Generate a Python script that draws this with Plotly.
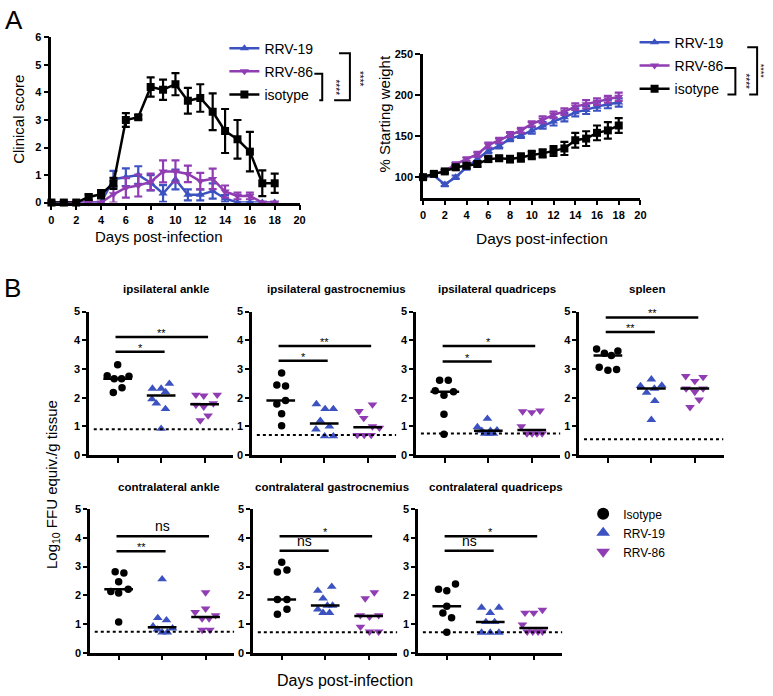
import plotly.graph_objects as go
import numpy as np

W, H = 773, 696
def px(x): return x / W
def py(y): return 1 - y / H

FONT = "Arial, Liberation Sans, sans-serif"
BLUE = "#3c52c0"
PURPLE = "#903db3"
BLACK = "#000000"

# ---------------- Panel A data ----------------
days = list(range(19))
clin_iso = [0, 0, 0, 0.2, 0.3, 0.7, 3.0, 3.1, 4.2, 4.1, 4.3, 3.7, 3.8, 3.3, 2.6, 2.3, 1.85, 0.7, 0.7]
clin_iso_err = [0, 0, 0, 0.1, 0.15, 0.2, 0.25, 0.08, 0.35, 0.37, 0.4, 0.47, 0.5, 0.67, 0.8, 0.7, 0.72, 0.47, 0.35]
clin_19 = [0, 0, 0, 0, 0, 0.85, 0.92, 1.0, 0.72, 0.33, 0.84, 0.28, 0.28, 0.42, 0.15, 0, 0, 0, 0]
clin_19_err = [0, 0, 0, 0, 0, 0.3, 0.32, 0.32, 0.28, 0.3, 0.36, 0.2, 0.2, 0.28, 0.12, 0, 0, 0, 0]
clin_86 = [0, 0, 0, 0, 0, 0.3, 0.54, 0.62, 0.75, 1.13, 1.13, 1.04, 0.78, 0.86, 0.4, 0.24, 0.24, 0, 0]
clin_86_err = [0, 0, 0, 0, 0, 0.3, 0.36, 0.4, 0.3, 0.4, 0.4, 0.3, 0.3, 0.37, 0.22, 0.12, 0.12, 0, 0]

weight_iso = [100, 104, 107, 112, 114, 116, 122, 123, 122, 124, 127, 129, 132, 135, 145, 147, 154, 157, 163]
weight_iso_err = [1, 2, 2, 3, 3, 3, 3, 3, 4, 5, 5, 5, 6, 8, 9, 9, 9, 10, 9]
weight_19 = [100, 102, 91, 100, 112, 122, 132, 138, 147, 151, 157, 163, 168, 173, 179, 182, 186, 189, 191]
weight_19_err = [1, 1, 2, 2, 3, 3, 3, 3, 3, 3, 4, 4, 5, 5, 5, 5, 5, 5, 5]
weight_86 = [100, 104, 107, 116, 122, 128, 139, 145, 152, 157, 165, 170, 176, 180, 186, 189, 192, 195, 198]
weight_86_err = [1, 1, 2, 2, 2, 3, 3, 3, 3, 3, 3, 4, 4, 4, 4, 5, 4, 4, 5]

# ---------------- Panel B data ----------------
groups = ["Isotype", "RRV-19", "RRV-86"]
tissues = ["ipsilateral ankle", "ipsilateral gastrocnemius", "ipsilateral quadriceps", "spleen",
           "contralateral ankle", "contralateral gastrocnemius", "contralateral quadriceps"]

ipsi_ankle = [[3.15, 2.77, 2.66, 2.66, 2.75, 2.18, 2.35],
              [2.32, 2.32, 2.49, 2.2, 1.95, 1.8, 1.61, 0.92],
              [2.1, 2.07, 2.1, 1.75, 1.69, 1.8, 1.38, 1.21]]
ipsi_gastroc = [[2.86, 2.44, 2.41, 1.78, 1.9, 1.44, 1.02],
                [1.78, 1.61, 1.61, 1.2, 1.0, 0.9, 0.66, 0.66],
                [1.53, 1.76, 1.29, 1.0, 0.95, 0.7, 0.7, 0.7]]
ipsi_quad = [[2.61, 2.61, 2.24, 2.21, 2.09, 1.42, 0.73],
             [0.98, 1.27, 0.85, 0.85, 0.87, 0.75, 0.75, 0.75],
             [1.52, 1.49, 1.55, 1.0, 0.75, 0.75, 0.75, 0.75]]
spleen = [[3.7, 3.55, 3.47, 3.63, 3.06, 2.96, 2.98],
          [2.41, 2.64, 2.43, 2.18, 2.32, 1.89, 1.23],
          [2.75, 2.58, 2.72, 2.32, 2.2, 2.32, 1.93, 1.67]]
contra_ankle = [[2.82, 2.78, 2.47, 2.13, 2.08, 2.21, 1.07],
                [2.56, 1.21, 1.13, 0.92, 0.81, 0.71, 0.71, 0.85],
                [2.1, 1.41, 1.53, 1.3, 1.19, 1.19, 0.79, 0.79]]
contra_gastroc = [[3.15, 2.81, 2.88, 1.85, 1.85, 1.34, 1.51],
                  [2.16, 2.3, 1.89, 1.64, 1.64, 1.51, 1.39, 1.39],
                  [1.89, 2.1, 1.3, 1.25, 1.3, 0.9, 0.73, 0.73]]
contra_quad = [[2.21, 2.16, 2.39, 1.62, 1.38, 1.22, 0.71],
               [1.57, 1.39, 1.57, 1.07, 1.07, 0.7, 0.7, 0.7],
               [1.39, 1.39, 1.49, 0.98, 0.73, 0.73, 0.73, 0.73]]

# horizontal scatter (jitter) offsets
ipsi_ankle_jit = [[0, -0.24, -0.08, 0.09, 0.26, -0.1, 0.1],
                  [-0.2, 0, 0.19, 0.1, -0.21, -0.11, 0.1, 0],
                  [-0.2, -0.02, 0.29, -0.2, -0.02, 0.2, 0.08, -0.1]]
ipsi_gastroc_jit = [[0.02, -0.09, 0.11, -0.09, 0.11, 0.02, 0.02],
                    [-0.18, 0.02, 0.21, -0.09, 0.12, -0.19, 0.01, 0.21],
                    [-0.2, 0.11, -0.09, 0.11, 0.27, -0.24, -0.08, 0.08]]
ipsi_quad_jit = [[-0.12, 0.08, -0.22, 0.2, -0.02, -0.02, -0.02],
                 [-0.25, -0.02, -0.15, 0.05, 0.2, -0.08, 0.02, 0.12],
                 [-0.21, 0, 0.19, -0.24, -0.11, 0.01, 0.12, 0.24]]
spleen_jit = [[-0.26, -0.08, 0.08, 0.23, -0.2, 0, 0.2],
              [-0.25, 0, 0.24, -0.11, 0.07, 0.08, 0],
              [-0.21, 0, 0.19, -0.2, 0, 0.19, 0.1, -0.11]]
contra_ankle_jit = [[-0.08, 0.12, 0, -0.18, 0, 0.22, 0],
                    [0, -0.1, 0.1, -0.21, -0.11, 0, 0.12, 0.24],
                    [0, -0.24, 0, 0.23, -0.08, 0.08, -0.08, 0.1]]
contra_gastroc_jit = [[0, -0.1, 0.12, -0.1, 0.12, -0.1, 0.12],
                      [-0.17, 0.15, -0.05, 0.05, 0.17, -0.17, -0.05, 0.1],
                      [-0.08, 0.13, -0.19, 0.02, 0.23, -0.19, 0.02, 0.23]]
contra_quad_jit = [[-0.19, 0, 0.2, 0, -0.09, 0.11, 0],
                   [-0.2, 0, 0.2, -0.1, 0.1, -0.2, 0, 0.2],
                   [-0.2, 0, 0.2, -0.26, -0.15, -0.02, 0.1, 0.2]]

detection_limits = [0.9, 0.7, 0.75, 0.55, 0.73, 0.71, 0.71]

# comparisons: (group a, group b, bar height, label)
ipsi_ankle_sig = [(0, 1, 3.6, "*"), (0, 2, 4.12, "**")]
ipsi_gastroc_sig = [(0, 1, 3.29, "*"), (0, 2, 3.8, "**")]
ipsi_quad_sig = [(0, 1, 3.26, "*"), (0, 2, 3.8, "*")]
spleen_sig = [(0, 1, 4.29, "**"), (0, 2, 4.8, "**")]
contra_ankle_sig = [(0, 1, 3.53, "**"), (0, 2, 4.06, "ns")]
contra_gastroc_sig = [(0, 1, 3.55, "ns"), (0, 2, 4.06, "*")]
contra_quad_sig = [(0, 1, 3.55, "ns"), (0, 2, 4.06, "*")]

b_values = [ipsi_ankle, ipsi_gastroc, ipsi_quad, spleen, contra_ankle, contra_gastroc, contra_quad]
b_jitter = [ipsi_ankle_jit, ipsi_gastroc_jit, ipsi_quad_jit, spleen_jit, contra_ankle_jit, contra_gastroc_jit, contra_quad_jit]
b_sig = [ipsi_ankle_sig, ipsi_gastroc_sig, ipsi_quad_sig, spleen_sig, contra_ankle_sig, contra_gastroc_sig, contra_quad_sig]

# ---------------- Figure ----------------
fig = go.Figure()

axis_common = dict(showline=True, linecolor="black", linewidth=2.5, ticks="outside", ticklen=5,
                   tickwidth=2, tickcolor="black", showgrid=False, zeroline=False, fixedrange=True,
                   tickfont=dict(size=11, family=FONT, color="black", weight="bold"))

def a_trace(x, y, err, name, color, symbol, xa, ya, legend):
    fig.add_trace(go.Scatter(
        x=x, y=y, name=name, xaxis=xa, yaxis=ya, legend=legend, legendgroup=legend + name,
        mode="lines+markers", cliponaxis=False,
        line=dict(color=color, width=2.5),
        marker=dict(symbol=symbol, size=8, color=color),
        error_y=dict(type="data", array=err, color=color, thickness=2.2, width=4)))

a_trace(days, clin_19, clin_19_err, "RRV-19", BLUE, "triangle-up", "x", "y", "legend")
a_trace(days, clin_86, clin_86_err, "RRV-86", PURPLE, "triangle-down", "x", "y", "legend")
a_trace(days, clin_iso, clin_iso_err, "isotype", BLACK, "square", "x", "y", "legend")

a_trace(days, weight_19, weight_19_err, "RRV-19", BLUE, "triangle-up", "x2", "y2", "legend2")
a_trace(days, weight_86, weight_86_err, "RRV-86", PURPLE, "triangle-down", "x2", "y2", "legend2")
a_trace(days, weight_iso, weight_iso_err, "isotype", BLACK, "square", "x2", "y2", "legend2")

layout = dict(
    width=W, height=H, margin=dict(l=0, r=0, t=0, b=0),
    paper_bgcolor="white", plot_bgcolor="white",
    font=dict(family=FONT, color="black"),
    xaxis=dict(axis_common, domain=[px(49), px(300)], range=[0, 20], dtick=2, anchor="y"),
    yaxis=dict(axis_common, domain=[py(200), py(32)], range=[0, 6], dtick=1, anchor="x"),
    xaxis2=dict(axis_common, domain=[px(425), px(645)], range=[0, 20], dtick=2, anchor="y2"),
    yaxis2=dict(axis_common, domain=[py(195), py(49)], range=[75, 250], tickvals=[100, 150, 200, 250], anchor="x2"),
    legend=dict(x=px(224), y=py(27), xanchor="left", yanchor="top", bgcolor="rgba(0,0,0,0)",
                font=dict(size=14, family=FONT), tracegroupgap=2, itemwidth=30),
    legend2=dict(x=px(639), y=py(21), xanchor="left", yanchor="top", bgcolor="rgba(0,0,0,0)",
                 font=dict(size=14, family=FONT), tracegroupgap=2, itemwidth=30),
    legend3=dict(x=px(587), y=py(502), xanchor="left", yanchor="top", bgcolor="rgba(0,0,0,0)",
                 font=dict(size=12, family=FONT), tracegroupgap=0, itemwidth=30),
)

# Panel B axes geometry (pixel layout)
b_left = [87, 252, 418, 583, 88, 253, 420]
b_top = [311, 311, 311, 311, 512, 512, 512]
b_title_x = [165, 337, 500, 652, 168, 333, 499]
b_width = 146
b_height = 146

colors = [BLACK, BLUE, PURPLE]
symbols = ["circle", "triangle-up", "triangle-down"]
sizes = [7.5, 8.5, 8.5]

shapes = []
annotations = []

for i in range(7):
    n = i + 3
    xa, ya = f"x{n}", f"y{n}"
    layout[f"xaxis{n}"] = dict(axis_common, domain=[px(b_left[i]), px(b_left[i] + b_width)],
                               range=[-0.66, 2.66], tickvals=[0, 1, 2], showticklabels=False, anchor=ya)
    layout[f"yaxis{n}"] = dict(axis_common, domain=[py(b_top[i] + b_height), py(b_top[i])],
                               range=[0, 5], dtick=1, anchor=xa, ticklen=4)
    for g in range(3):
        vals = b_values[i][g]
        xs = [g + d for d in b_jitter[i][g]]
        fig.add_trace(go.Scatter(x=xs, y=vals, xaxis=xa, yaxis=ya, mode="markers", showlegend=False,
                                 cliponaxis=False, name=groups[g],
                                 marker=dict(symbol=symbols[g], size=sizes[g], color=colors[g])))
        med = float(np.median(vals))
        shapes.append(dict(type="line", xref=xa, yref=ya, x0=g - 0.33, x1=g + 0.33, y0=med, y1=med,
                           line=dict(color="black", width=2.5), layer="above"))
    lod = detection_limits[i]
    shapes.append(dict(type="line", xref=xa, yref=ya, x0=-0.55, x1=2.66, y0=lod, y1=lod,
                       line=dict(color="black", width=2, dash="dot"), layer="above"))
    for (a, b, yv, lab) in b_sig[i]:
        shapes.append(dict(type="line", xref=xa, yref=ya, x0=a - 0.05, x1=b + 0.08, y0=yv, y1=yv,
                           line=dict(color="black", width=2.5)))
        is_ns = lab == "ns"
        annotations.append(dict(xref=xa, yref=ya, x=(a - 0.05 + b + 0.08) / 2, y=yv, text=lab,
                                showarrow=False, yanchor="bottom", yshift=0 if is_ns else -4,
                                font=dict(size=14 if is_ns else 11, family=FONT, color="black")))
    annotations.append(dict(xref="paper", yref="paper", x=px(b_title_x[i]), y=py(b_top[i] - 23),
                            text=tissues[i], showarrow=False, xanchor="center", yanchor="middle",
                            font=dict(size=11.5, family=FONT, color="black", weight="bold")))

# legend for panel B
for g in range(3):
    fig.add_trace(go.Scatter(x=[None], y=[None], xaxis="x3", yaxis="y3", mode="markers", name=groups[g],
                             legend="legend3", showlegend=True,
                             marker=dict(symbol=symbols[g], size=12, color=colors[g])))

# axis titles and panel letters
def text(x, y, s, size, angle=0, weight="normal", anchor="center"):
    annotations.append(dict(xref="paper", yref="paper", x=px(x), y=py(y), text=s, showarrow=False,
                            textangle=angle, xanchor=anchor, yanchor="middle",
                            font=dict(size=size, family=FONT, color="black", weight=weight)))

text(11, 14, "A", 26)
text(10, 287, "B", 26)
text(15, 115, "Clinical score", 15, angle=-90)
text(158, 235, "Days post-infection", 15)
text(386, 110, "% Starting weight", 15, angle=-90)
text(545, 237, "Days post-infection", 15.5)
text(50, 487, "Log<sub>10</sub> FFU equiv./g tissue", 15, angle=-90)
text(346, 686, "Days post-infection", 16)

# significance brackets in panel A legends
def bracket(x, y0, y1, l_top, l_bot):
    shapes.append(dict(type="path", xref="paper", yref="paper",
                       path=f"M {px(x - l_top)} {py(y0)} L {px(x)} {py(y0)} L {px(x)} {py(y1)} L {px(x - l_bot)} {py(y1)}",
                       line=dict(color="black", width=2)))

bracket(323, 69, 96, 8, 3)
bracket(351, 48, 96, 11, 16)
text(336, 83, "****", 10, angle=90)
text(360, 74, "****", 10, angle=90)
bracket(741, 63, 90, 11, 8)
bracket(763, 42, 90, 10, 8)
text(751, 77, "****", 10, angle=90)
text(767, 66, "****", 9, angle=90)

layout["shapes"] = shapes
layout["annotations"] = annotations
fig.update_layout(**layout)

fig.write_html("out.html", config={"displayModeBar": False},
               post_script="document.body.style.margin='0';document.body.style.overflow='hidden';")
